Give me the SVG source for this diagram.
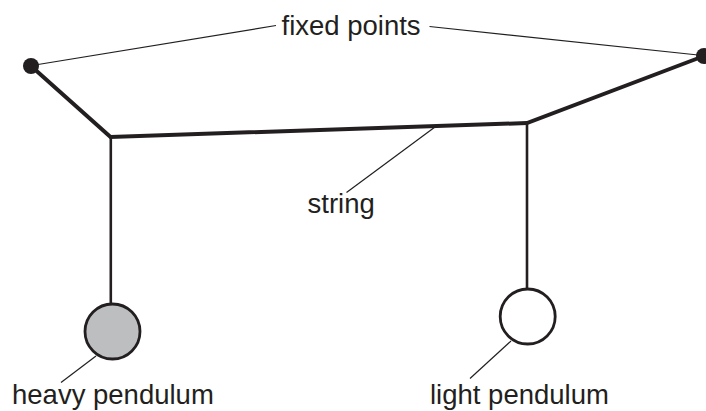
<svg xmlns="http://www.w3.org/2000/svg" width="706" height="411" viewBox="0 0 706 411">
<style>
text{font-family:"Liberation Sans",Arial,sans-serif;font-size:27.5px;fill:#231f20}
.s{fill:none;stroke:#231f20;stroke-linecap:butt;stroke-linejoin:miter}
.thick{stroke-width:4}
.rod{stroke-width:2.6}
.lead{stroke-width:1.2}
.ball{stroke:#231f20;stroke-width:2.8}
.pin{fill:#231f20}
</style>
<rect width="706" height="411" fill="#ffffff"/>
<g id="connectors">
<path class="s thick" d="M31 66L110.500 137L527 123L704 56"/>
<path class="s rod" d="M110.800 137V304"/>
<path class="s rod" d="M527 123V289"/>
<path class="s lead" d="M38 64.500L276 25.500"/>
<path class="s lead" d="M429.500 26.500L698 55"/>
<path class="s lead" d="M435 127L346.500 192.500"/>
<path class="s lead" d="M96 356L61 382.500"/>
<path class="s lead" d="M511 341L470 378.500"/>
</g>
<g id="fixed-point-left"><circle class="pin" cx="31" cy="66" r="8"/></g>
<g id="fixed-point-right"><circle class="pin" cx="704" cy="56" r="8"/></g>
<g id="heavy-pendulum"><circle class="ball" cx="112.500" cy="331.500" r="27.500" fill="#bcbec0"/><text x="12" y="404">heavy pendulum</text></g>
<g id="light-pendulum"><circle class="ball" cx="527.700" cy="316.500" r="27.500" fill="#ffffff"/><text x="430" y="404">light pendulum</text></g>
<g id="fixed-points-label"><text x="281.500" y="35">fixed points</text></g>
<g id="string-label"><text x="307.500" y="212.700">string</text></g>
</svg>
